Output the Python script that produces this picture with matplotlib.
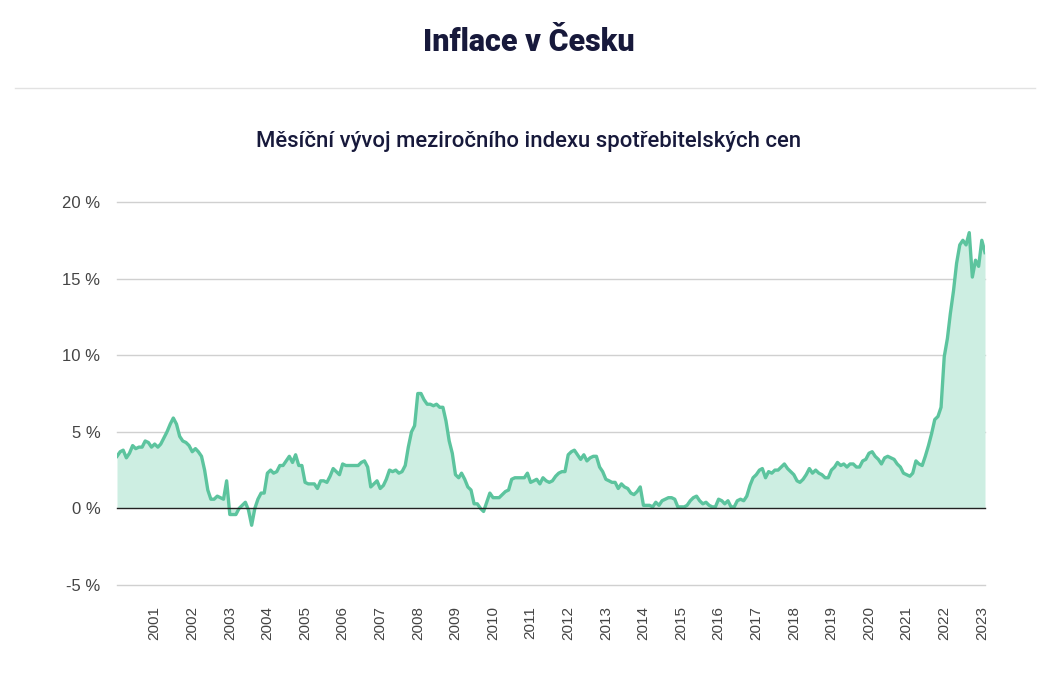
import pandas as pd
import matplotlib
matplotlib.use("Agg")
from matplotlib import pyplot as plt

# monthly year-on-year CPI change in %, Jan 2000 .. Feb 2023
cpi_2000 = [3.4, 3.7, 3.8, 3.3, 3.6, 4.1, 3.9, 4.0, 4.0, 4.4, 4.3, 4.0]
cpi_2001 = [4.2, 4.0, 4.2, 4.6, 5.0, 5.5, 5.9, 5.5, 4.7, 4.4, 4.3, 4.1]
cpi_2002 = [3.7, 3.9, 3.7, 3.4, 2.5, 1.2, 0.6, 0.6, 0.8, 0.7, 0.6, 1.8]
cpi_2003 = [-0.4, -0.4, -0.4, 0.0, 0.2, 0.4, -0.1, -1.1, 0.0, 0.6, 1.0, 1.0]
cpi_2004 = [2.3, 2.5, 2.3, 2.4, 2.8, 2.8, 3.1, 3.4, 3.0, 3.5, 2.8, 2.8]
cpi_2005 = [1.7, 1.6, 1.6, 1.6, 1.3, 1.8, 1.8, 1.7, 2.1, 2.6, 2.4, 2.2]
cpi_2006 = [2.9, 2.8, 2.8, 2.8, 2.8, 2.8, 3.0, 3.1, 2.7, 1.4, 1.6, 1.8]
cpi_2007 = [1.3, 1.5, 1.9, 2.5, 2.4, 2.5, 2.3, 2.4, 2.8, 4.0, 5.0, 5.4]
cpi_2008 = [7.5, 7.5, 7.1, 6.8, 6.8, 6.7, 6.8, 6.6, 6.6, 5.7, 4.4, 3.6]
cpi_2009 = [2.2, 2.0, 2.3, 1.9, 1.4, 1.2, 0.3, 0.3, 0.0, -0.2, 0.4, 1.0]
cpi_2010 = [0.7, 0.7, 0.7, 0.9, 1.1, 1.2, 1.9, 2.0, 2.0, 2.0, 2.0, 2.3]
cpi_2011 = [1.7, 1.8, 1.9, 1.6, 2.0, 1.8, 1.7, 1.8, 2.1, 2.3, 2.4, 2.4]
cpi_2012 = [3.5, 3.7, 3.8, 3.5, 3.2, 3.5, 3.1, 3.3, 3.4, 3.4, 2.7, 2.4]
cpi_2013 = [1.9, 1.8, 1.7, 1.7, 1.3, 1.6, 1.4, 1.3, 1.0, 0.9, 1.1, 1.4]
cpi_2014 = [0.2, 0.2, 0.2, 0.1, 0.4, 0.2, 0.5, 0.6, 0.7, 0.7, 0.6, 0.1]
cpi_2015 = [0.1, 0.1, 0.2, 0.5, 0.7, 0.8, 0.5, 0.3, 0.4, 0.2, 0.1, 0.1]
cpi_2016 = [0.6, 0.5, 0.3, 0.5, 0.1, 0.1, 0.5, 0.6, 0.5, 0.8, 1.5, 2.0]
cpi_2017 = [2.2, 2.5, 2.6, 2.0, 2.4, 2.3, 2.5, 2.5, 2.7, 2.9, 2.6, 2.4]
cpi_2018 = [2.2, 1.8, 1.7, 1.9, 2.2, 2.6, 2.3, 2.5, 2.3, 2.2, 2.0, 2.0]
cpi_2019 = [2.5, 2.7, 3.0, 2.8, 2.9, 2.7, 2.9, 2.9, 2.7, 2.7, 3.1, 3.2]
cpi_2020 = [3.6, 3.7, 3.4, 3.2, 2.9, 3.3, 3.4, 3.3, 3.2, 2.9, 2.7, 2.3]
cpi_2021 = [2.2, 2.1, 2.3, 3.1, 2.9, 2.8, 3.4, 4.1, 4.9, 5.8, 6.0, 6.6]
cpi_2022 = [9.9, 11.1, 12.7, 14.2, 16.0, 17.2, 17.5, 17.2, 18.0, 15.1, 16.2, 15.8]
cpi_2023 = [17.5, 16.7]

values = (cpi_2000 + cpi_2001 + cpi_2002 + cpi_2003 + cpi_2004 + cpi_2005
          + cpi_2006 + cpi_2007 + cpi_2008 + cpi_2009 + cpi_2010 + cpi_2011
          + cpi_2012 + cpi_2013 + cpi_2014 + cpi_2015 + cpi_2016 + cpi_2017
          + cpi_2018 + cpi_2019 + cpi_2020 + cpi_2021 + cpi_2022 + cpi_2023)
months = pd.date_range("2000-01-01", periods=len(values), freq="MS")
tick_years = list(range(2001, 2024))
y_ticks = [-5, 0, 5, 10, 15, 20]

title = "Inflace v Česku"
subtitle = "Měsíční vývoj meziročního indexu spotřebitelských cen"

navy = "#17193b"
line_col = "#5cc49e"
fill_col = "#cdeee2"

plt.rcParams['font.family'] = ['Liberation Sans', 'DejaVu Sans']

fig = plt.figure(figsize=(10.58, 6.78), dpi=100)
ax = fig.add_axes([117/1058, 1 - 585/678, (985-117)/1058, (585-202)/678])

ax.fill_between(months, values, 0, color=fill_col, lw=0, zorder=1)
ax.plot(months, values, color=line_col, lw=2.4, zorder=3, solid_joinstyle='round')

ax.set_ylim(-5, 20)
ax.set_xlim(months[0], months[-1])
ax.set_yticks(y_ticks)
ax.set_yticklabels([f"{v} %" for v in y_ticks])
for v in y_ticks:
    if v == 0:
        ax.axhline(v, color="#222222", lw=1, zorder=4, clip_on=False)
    else:
        ax.axhline(v, color="#d0d0d0", lw=1, zorder=0, clip_on=False)

ax.set_xticks([pd.Timestamp(f"{y}-01-01") for y in tick_years])
ax.set_xticklabels([str(y) for y in tick_years], rotation=90)
ax.tick_params(axis='both', length=0, colors="#444444")
ax.tick_params(axis='x', labelsize=11, pad=15)
ax.tick_params(axis='y', labelsize=12, pad=12)
for s in ax.spines.values():
    s.set_visible(False)

fig.text(0.5, 1 - 42/678, title, ha='center', va='center', fontsize=22,
         fontweight='heavy', color=navy, family=['Roboto', 'DejaVu Sans'])
fig.add_artist(plt.Line2D([15/1058, 1035/1058], [1 - 88/678, 1 - 88/678],
                          color="#e2e2e2", lw=1))
fig.text(0.5, 1 - 141/678, subtitle, ha='center', va='center', fontsize=15.9,
         fontweight='medium', color=navy, family=['Roboto', 'DejaVu Sans'])

fig.savefig("out.png", dpi=100)
